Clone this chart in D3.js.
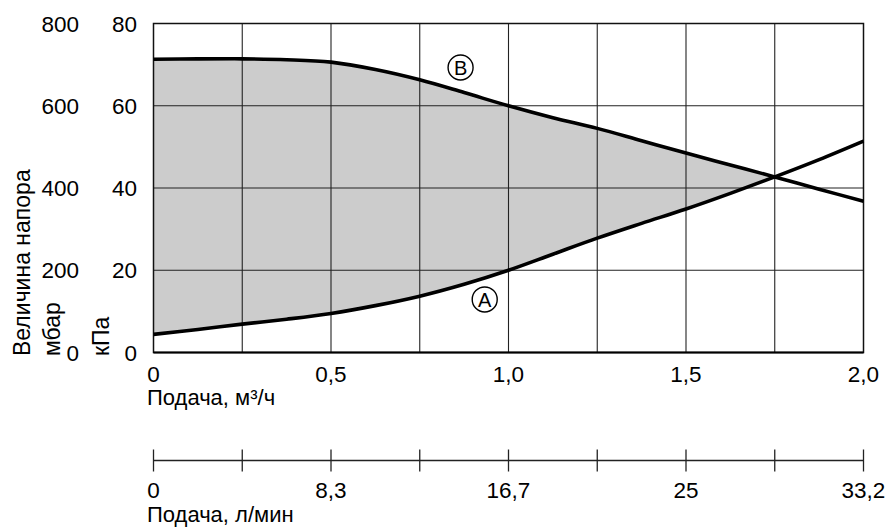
<!DOCTYPE html>
<html>
<head>
<meta charset="utf-8">
<script src="https://cdn.jsdelivr.net/npm/d3@7/dist/d3.min.js"></script>
<style>
  html, body { margin: 0; padding: 0; background: #fff; }
  svg { display: block; font-family: "Liberation Sans", Arial, sans-serif; }
</style>
</head>
<body>
<svg id="chart" width="886" height="529"></svg>
<script>
// ---- data ----
const flow = [0, 0.125, 0.25, 0.375, 0.5, 0.625, 0.75, 0.875, 1.0, 1.125, 1.25, 1.375, 1.5, 1.625, 1.75, 1.875, 2.0]; // m³/h
const curveB = [71.3, 71.4, 71.4, 71.2, 70.6, 68.8, 66.3, 63.2, 60.0, 57.1, 54.5, 51.5, 48.5, 45.6, 42.7, 39.7, 36.8]; // kPa
const curveA = [4.4, 5.6, 6.9, 8.1, 9.5, 11.4, 13.7, 16.6, 20.0, 23.9, 27.8, 31.4, 34.9, 38.7, 42.7, 46.9, 51.4];   // kPa
const xGridTicks = [0, 0.25, 0.5, 0.75, 1.0, 1.25, 1.5, 1.75, 2.0];
const xLabelTicks = [0, 0.5, 1.0, 1.5, 2.0];
const xLabels = ["0", "0,5", "1,0", "1,5", "2,0"];
const lpmLabels = ["0", "8,3", "16,7", "25", "33,2"];
const kPaTicks = [0, 20, 40, 60, 80];
const mbarTicks = [0, 200, 400, 600, 800];
const markerB = { flow: 0.865, kPa: 69.3, text: "B" };
const markerA = { flow: 0.933, kPa: 12.9, text: "A" };

// ---- layout ----
const svg = d3.select("#chart");
const L = 153.5, R = 863.5, T = 23.5, B = 352.5;
const x = d3.scaleLinear().domain([0, 2]).range([L, R]);
const y = d3.scaleLinear().domain([0, 80]).range([B, T]);
const yMbar = d3.scaleLinear().domain([0, 800]).range([B, T]);
const fs = 22.5;
const curve = d3.curveCatmullRom.alpha(0.5);

// fill between curves
const pts = flow.map((f, i) => ({ f, a: curveA[i], b: curveB[i] }));
const area = d3.area()
  .x(d => x(d.f))
  .y0(d => y(d.a))
  .y1(d => y(Math.max(d.a, d.b)))
  .curve(curve);
svg.append("path").attr("d", area(pts.filter(d => d.f <= 1.75))).attr("fill", "#cccccc");

// grid
const g = svg.append("g");
g.selectAll("line.vx").data(xGridTicks.slice(1, -1)).join("line")
  .attr("x1", d => x(d)).attr("x2", d => x(d)).attr("y1", T).attr("y2", B)
  .attr("stroke", "#222").attr("stroke-width", 1.1);
g.selectAll("line.hy").data(kPaTicks.slice(1, -1)).join("line")
  .attr("x1", L).attr("x2", R).attr("y1", d => y(d)).attr("y2", d => y(d))
  .attr("stroke", "#222").attr("stroke-width", 1.1);
svg.append("rect").attr("x", L).attr("y", T).attr("width", R - L).attr("height", B - T)
  .attr("fill", "none").attr("stroke", "#111").attr("stroke-width", 1.5);
svg.append("line").attr("x1", L).attr("x2", R).attr("y1", B).attr("y2", B)
  .attr("stroke", "#000").attr("stroke-width", 2);

// curves
const line = d3.line().x(d => x(d[0])).y(d => y(d[1])).curve(curve);
svg.append("path").attr("d", line(flow.map((f, i) => [f, curveB[i]])))
  .attr("fill", "none").attr("stroke", "#000").attr("stroke-width", 3.6);
svg.append("path").attr("d", line(flow.map((f, i) => [f, curveA[i]])))
  .attr("fill", "none").attr("stroke", "#000").attr("stroke-width", 3.6);

// markers
[markerB, markerA].forEach(m => {
  const cx = x(m.flow), cy = y(m.kPa);
  svg.append("circle").attr("cx", cx).attr("cy", cy).attr("r", 12.5)
    .attr("fill", "none").attr("stroke", "#000").attr("stroke-width", 1.4);
  svg.append("text").attr("x", cx).attr("y", cy + 7.2).attr("text-anchor", "middle")
    .attr("font-size", 20).text(m.text);
});

// y-axis labels
svg.selectAll("text.mbar").data(mbarTicks).join("text")
  .attr("x", 79).attr("y", d => yMbar(d) + 8).attr("text-anchor", "end")
  .attr("font-size", fs).attr("fill", "#000").text(d => d);
svg.selectAll("text.kpa").data(kPaTicks).join("text")
  .attr("x", 137).attr("y", d => y(d) + 8).attr("text-anchor", "end")
  .attr("font-size", fs).attr("fill", "#000").text(d => d);

function vtext(tx, ty, s, size) {
  svg.append("text").attr("transform", `translate(${tx},${ty}) rotate(-90)`)
    .attr("font-size", size).attr("fill", "#000").text(s);
}
vtext(30, 356, "Величина напора", 23);
vtext(60, 356, "мбар", 23);
vtext(109, 356, "кПа", 23);

// main x-axis labels
svg.selectAll("text.xl").data(xLabelTicks).join("text")
  .attr("x", d => x(d)).attr("y", 382).attr("text-anchor", "middle")
  .attr("font-size", fs).attr("fill", "#000").text((d, i) => xLabels[i]);
svg.append("text").attr("x", 147).attr("y", 405).attr("font-size", 22).text("Подача, м³/ч");

// secondary axis (l/min)
const ax2 = 460.5;
svg.append("line").attr("x1", L).attr("x2", R).attr("y1", ax2).attr("y2", ax2)
  .attr("stroke", "#222").attr("stroke-width", 1.3);
svg.selectAll("line.t2").data(xGridTicks).join("line")
  .attr("x1", d => x(d)).attr("x2", d => x(d)).attr("y1", ax2 - 11).attr("y2", ax2 + 11)
  .attr("stroke", "#222").attr("stroke-width", 1.3);
svg.selectAll("text.l2").data(xLabelTicks).join("text")
  .attr("x", d => x(d)).attr("y", 498).attr("text-anchor", "middle")
  .attr("font-size", fs).attr("fill", "#000").text((d, i) => lpmLabels[i]);
svg.append("text").attr("x", 147).attr("y", 522).attr("font-size", 22).text("Подача, л/мин");
</script>
</body>
</html>
